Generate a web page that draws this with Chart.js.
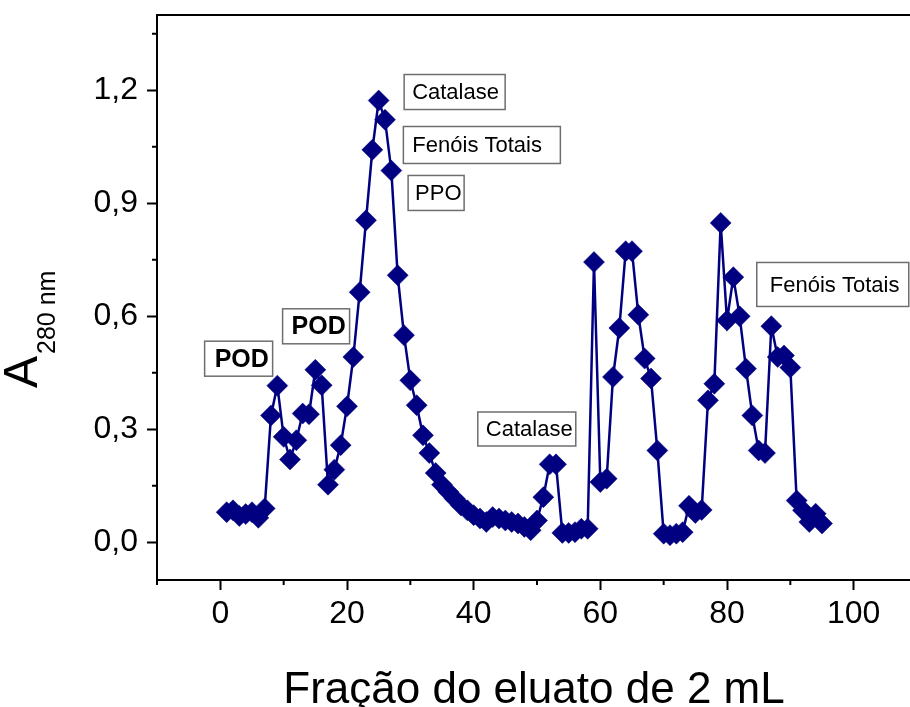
<!DOCTYPE html>
<html>
<head>
<meta charset="utf-8">
<script src="https://cdn.jsdelivr.net/npm/chart.js@4.4.1/dist/chart.umd.min.js"></script>
<style>
  html, body { margin: 0; padding: 0; background: #fff; overflow: hidden; }
  #wrap { width: 917px; height: 707px; }
</style>
</head>
<body>
<div id="wrap"><canvas id="eluicao" width="917" height="707"></canvas></div>
<script>
// Fração do eluato (2 mL cada) e absorbância a 280 nm
const fractions = [
  1, 2, 3, 4, 5, 6, 7, 8, 9, 10, 11, 12, 13, 14, 15, 16, 17, 18, 19, 20,
  21, 22, 23, 24, 25, 26, 27, 28, 29, 30, 31, 32, 33, 34, 35, 36, 37, 38, 39, 40,
  41, 42, 43, 44, 45, 46, 47, 48, 49, 50, 51, 52, 53, 54, 55, 56, 57, 58, 59, 60,
  61, 62, 63, 64, 65, 66, 67, 68, 69, 70, 71, 72, 73, 74, 75, 76, 77, 78, 79, 80,
  81, 82, 83, 84, 85, 86, 87, 88, 89, 90, 91, 92, 93, 94, 95
];
const absorbance = [
  0.080, 0.085, 0.070, 0.075, 0.080, 0.065, 0.090, 0.337, 0.416, 0.280,
  0.220, 0.271, 0.342, 0.340, 0.458, 0.417, 0.153, 0.193, 0.258, 0.361,
  0.492, 0.664, 0.855, 1.042, 1.173, 1.122, 0.987, 0.709, 0.550, 0.430,
  0.364, 0.284, 0.237, 0.184, 0.153, 0.134, 0.116, 0.098, 0.085, 0.072,
  0.063, 0.054, 0.067, 0.063, 0.058, 0.054, 0.050, 0.041, 0.032, 0.058,
  0.120, 0.207, 0.207, 0.025, 0.025, 0.027, 0.036, 0.036, 0.744, 0.160,
  0.169, 0.439, 0.569, 0.773, 0.773, 0.604, 0.488, 0.435, 0.244, 0.023,
  0.019, 0.023, 0.027, 0.097, 0.078, 0.086, 0.377, 0.421, 0.848, 0.589,
  0.704, 0.600, 0.461, 0.337, 0.244, 0.237, 0.574, 0.492, 0.496, 0.464,
  0.111, 0.085, 0.054, 0.076, 0.050
];

const xMajor = [0, 20, 40, 60, 80, 100];
const xMinor = [-10, 10, 30, 50, 70, 90, 110];
const yMajor = [0, 0.3, 0.6, 0.9, 1.2];
const yMinor = [0.15, 0.45, 0.75, 1.05, 1.35];

// caixas de texto: canto superior esquerdo em unidades dos eixos, tamanho em px
const rotulos = [
  { texto: 'POD', x: -2.48, y: 0.534, w: 68, h: 35, pad: 10, bold: true },
  { texto: 'POD', x: 9.83, y: 0.620, w: 67, h: 35, pad: 9, bold: true },
  { texto: 'Catalase', x: 29.02, y: 1.242, w: 101, h: 35, pad: 8 },
  { texto: 'Fenóis Totais', x: 28.9, y: 1.104, w: 157, h: 37, pad: 9 },
  { texto: 'PPO', x: 29.65, y: 0.974, w: 56, h: 35, pad: 7 },
  { texto: 'Catalase', x: 40.65, y: 0.346, w: 98, h: 34, pad: 8 },
  { texto: 'Fenóis Totais', x: 84.7, y: 0.743, w: 152, h: 44, pad: 13 }
];

const FONTE = '"Liberation Sans", Arial, sans-serif';
const AZUL = '#000080';

const extras = {
  id: 'extras',
  afterDraw(chart) {
    const { ctx, chartArea: a, scales: { x, y } } = chart;
    ctx.save();

    // moldura
    ctx.strokeStyle = '#000';
    ctx.lineWidth = 2;
    ctx.strokeRect(a.left, a.top, a.right - a.left, a.bottom - a.top);

    // ticks menores (mais curtos)
    ctx.beginPath();
    xMinor.forEach(v => {
      const px = x.getPixelForValue(v);
      ctx.moveTo(px, a.bottom);
      ctx.lineTo(px, a.bottom + 5);
    });
    yMinor.forEach(v => {
      const py = y.getPixelForValue(v);
      ctx.moveTo(a.left, py);
      ctx.lineTo(a.left - 5, py);
    });
    ctx.stroke();

    // rótulos das atividades
    rotulos.forEach(r => {
      const bx = x.getPixelForValue(r.x);
      const by = y.getPixelForValue(r.y);
      ctx.fillStyle = '#fff';
      ctx.fillRect(bx, by, r.w, r.h);
      ctx.strokeStyle = '#6e6e6e';
      ctx.lineWidth = 1.5;
      ctx.strokeRect(bx, by, r.w, r.h);
      ctx.fillStyle = '#000';
      ctx.font = (r.bold ? 'bold 25px ' : '22px ') + FONTE;
      ctx.textAlign = 'left';
      ctx.textBaseline = 'middle';
      ctx.fillText(r.texto, bx + r.pad, by + r.h / 2 + 1);
    });

    // título do eixo x
    ctx.fillStyle = '#000';
    ctx.font = '44px ' + FONTE;
    ctx.textAlign = 'center';
    ctx.textBaseline = 'alphabetic';
    ctx.fillText('Fração do eluato de 2 mL', 534, 703);

    // título do eixo y: A com subscrito 280 nm
    ctx.translate(37, 388);
    ctx.rotate(-Math.PI / 2);
    ctx.textAlign = 'left';
    ctx.font = '48px ' + FONTE;
    ctx.fillText('A', 0, 0);
    const wA = ctx.measureText('A').width;
    ctx.font = '25px ' + FONTE;
    ctx.fillText('280 nm', wA + 2, 18);

    ctx.restore();
  }
};

const ctx = document.getElementById('eluicao').getContext('2d');
new Chart(ctx, {
  type: 'line',
  data: {
    datasets: [{
      label: 'A280',
      data: fractions.map((f, i) => ({ x: f, y: absorbance[i] })),
      borderColor: AZUL,
      backgroundColor: AZUL,
      borderWidth: 2.5,
      tension: 0,
      fill: false,
      pointStyle: 'rectRot',
      pointRadius: 10.5,
      pointHoverRadius: 10.5,
      pointBorderWidth: 0.5,
      pointBackgroundColor: AZUL,
      pointBorderColor: AZUL
    }]
  },
  options: {
    responsive: false,
    animation: false,
    layout: { autoPadding: false, padding: { top: 15, left: 0, right: 0, bottom: 0 } },
    plugins: {
      legend: { display: false },
      tooltip: { enabled: false }
    },
    scales: {
      x: {
        type: 'linear',
        min: -10,
        max: 110,
        afterBuildTicks: s => {
          s.ticks = [...xMajor, ...xMinor].sort((p, q) => p - q).map(v => ({ value: v }));
        },
        afterFit: s => {
          s.height = 127;
          s.paddingLeft = 0;
          s.paddingRight = 0;
        },
        border: { display: false },
        grid: {
          drawOnChartArea: false,
          drawTicks: true,
          tickLength: 10,
          tickWidth: 2,
          tickColor: '#000'
        },
        ticks: {
          autoSkip: false,
          maxRotation: 0,
          padding: 5,
          color: '#000',
          font: { family: FONTE, size: 32 },
          callback: v => xMajor.includes(v) ? String(v) : null
        }
      },
      y: {
        min: -0.1,
        max: 1.4,
        afterBuildTicks: s => {
          s.ticks = [...yMajor, ...yMinor].sort((p, q) => p - q).map(v => ({ value: v }));
        },
        afterFit: s => {
          s.width = 157;
          s.paddingTop = 0;
          s.paddingBottom = 0;
        },
        border: { display: false },
        grid: {
          drawOnChartArea: false,
          drawTicks: true,
          tickLength: 10,
          tickWidth: 2,
          tickColor: '#000'
        },
        ticks: {
          autoSkip: false,
          padding: 9,
          color: '#000',
          font: { family: FONTE, size: 32 },
          callback: v => yMajor.includes(v) ? v.toFixed(1).replace('.', ',') : null
        }
      }
    }
  },
  plugins: [extras]
});
</script>
</body>
</html>
